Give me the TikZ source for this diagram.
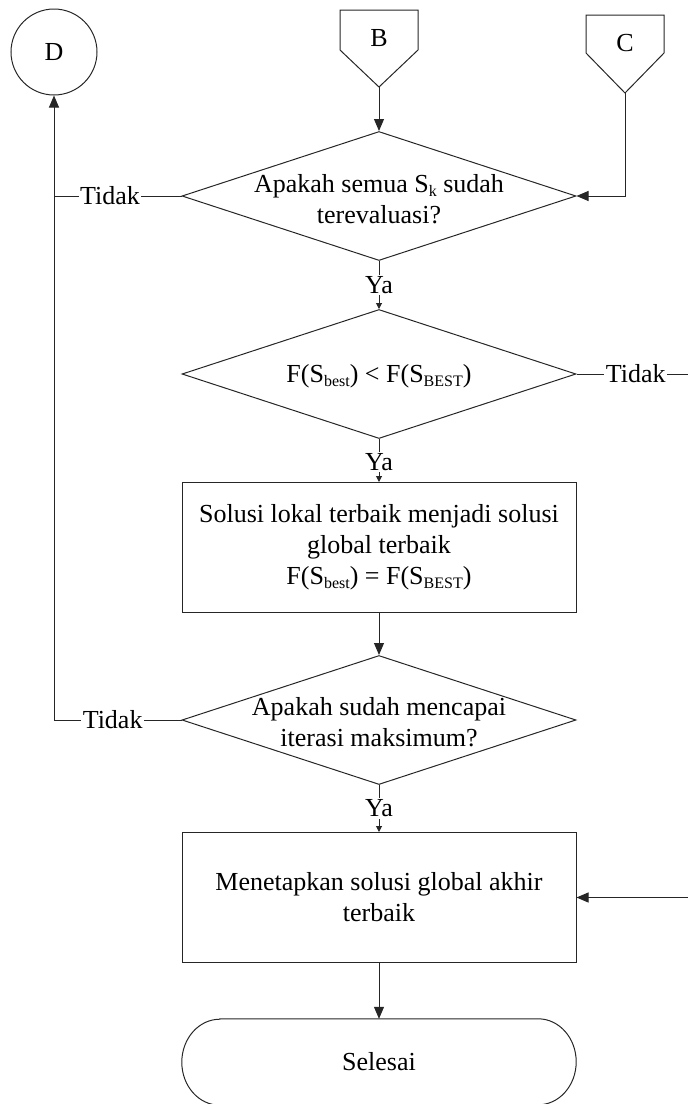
\documentclass[tikz,border=0pt]{standalone}
\usepackage{fontspec}
\setmainfont{Liberation Serif}
\usetikzlibrary{shapes.geometric,arrows.meta,calc}
\newcommand\lsub[1]{\raisebox{-0.35ex}{\fontsize{16}{16}\selectfont #1}}
\begin{document}
\begin{tikzpicture}[x=1pt,y=-1pt,
  every node/.style={font=\fontsize{26}{31}\selectfont},
  ln/.style={line width=1pt, draw=black!85},
  arr/.style={ln,-{Triangle[length=12pt,width=10pt]}},
  sarr/.style={ln,-{Triangle[length=6pt,width=6pt]}},
  dia/.style={draw=black!85,line width=1pt,shape=diamond,minimum width=394pt,minimum height=129pt,inner sep=0pt},
  box/.style={draw=black!85,line width=1pt,minimum width=394pt,minimum height=130pt,inner sep=0pt,align=center},
  txt/.style={align=center,inner sep=0pt},
  lbl/.style={fill=white,inner sep=1.5pt},
]
\useasboundingbox (0,0) rectangle (688,1104);
% connectors D, B, C
\node[draw=black!85,line width=1pt,circle,minimum size=86pt,inner sep=0pt] (D) at (54,52) {D};
\coordinate (Btip) at (379,87);
\draw[ln] (340,10) -- (418,10) -- (418,50) -- (Btip) -- (340,50) -- cycle;
\node[inner sep=0pt] (B) at (379,38) {B};
\coordinate (Ctip) at (625,93);
\draw[ln] (586,15) -- (664,15) -- (664,53) -- (Ctip) -- (586,53) -- cycle;
\node[inner sep=0pt] (C) at (625,43) {C};
% main shapes
\node[dia] (d1) at (379,196) {};
\node[txt] (t1) at (379,199) {Apakah semua S\lsub{k} sudah\\terevaluasi?};
\node[dia] (d2) at (379,374) {};
\node[txt] (t2) at (379,376) {F(S\lsub{best}) < F(S\lsub{BEST})};
\node[box] (b1) at (379,547.5) {Solusi lokal terbaik menjadi solusi\\global terbaik\\F(S\lsub{best}) = F(S\lsub{BEST})};
\node[dia] (d3) at (379,720) {};
\node[txt] (t3) at (379,722) {Apakah sudah mencapai\\iterasi maksimum?};
\node[box] (b2) at (379,897.5) {Menetapkan solusi global akhir\\terbaik};
\node[txt,minimum width=394pt,minimum height=86pt] (term) at (379,1062) {Selesai};
\draw[ln] ($(term.north west)+(38,0)$) -- ($(term.north east)+(-38,0)$)
  arc[start angle=90,end angle=-90,x radius=38pt,y radius=43pt]
  -- ($(term.south west)+(38,0)$)
  arc[start angle=270,end angle=90,x radius=38pt,y radius=43pt] -- cycle;
% edges
\coordinate (rt) at (700,374);
\coordinate (rb) at (b2.east -| rt);
\draw[arr] (Btip) -- (d1.north);
\draw[arr] (Ctip) |- (d1.east);
\draw[ln] (d1.west) -- node[lbl,pos=0.56]{Tidak} (D.south |- d1.west);
\draw[arr] (d3.west) -- node[lbl,pos=0.54]{Tidak} (D.south |- d3.west) -- (D.south);
\draw[sarr] (d1.south) -- node[lbl,pos=0.5]{Ya} (d2.north);
\draw[arr] (d2.east) -- node[lbl,pos=0.48]{Tidak} (rt) -- (rb) -- (b2.east);
\draw[sarr] (d2.south) -- node[lbl,pos=0.53]{Ya} (b1.north);
\draw[arr] (b1.south) -- (d3.north);
\draw[sarr] (d3.south) -- node[lbl,pos=0.5]{Ya} (b2.north);
\draw[arr] (b2.south) -- (term.north);
\end{tikzpicture}
\end{document}
